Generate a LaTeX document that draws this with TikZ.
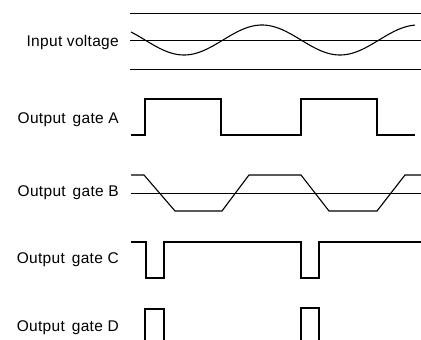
\documentclass[tikz,border=0pt]{standalone}
\usepackage{fontspec}
\setmainfont{Liberation Sans}[LetterSpace=2]
\usepackage{tikz}
\usetikzlibrary{positioning}
\tikzstyle{siglabel} = [anchor=east, inner sep=0pt, font=\fontsize{15.5}{18}\selectfont]
\tikzstyle{wave}     = [line width=1.1pt, line join=miter]
\tikzstyle{refline}  = [line width=0.6pt]
\newcommand{\gap}{\hspace{7pt}}

\begin{document}
\begin{tikzpicture}[x=1pt, y=1pt]
    \useasboundingbox (0,0) rectangle (421,340);

    % signal names
    \node (vin) [siglabel] at (119,298) {Input voltage};
    \node (ga) [siglabel] at (119,220) {Output\gap gate A};
    \node (gb) [siglabel] at (119,147) {Output\gap gate B};
    \node (gc) [siglabel] at (119,80) {Output\gap gate C};
    \node (gd) [siglabel] at (119,12) {Output\gap gate D};

    % input voltage with its reference levels
    \draw[refline] (130,327) -- (421,327);
    \draw[refline] (130,300) -- (421,300);
    \draw[refline] (130,271) -- (421,271);
    \draw[wave] plot[domain=131:415, samples=120, smooth]
        (\x, {300-15*sin(2.3077*(\x-145))});

    % gate A
    \draw[wave] (131,205) -- (145,205) -- (145,241) -- (221,241) -- (221,205)
        -- (301,205) -- (301,241) -- (377,241) -- (377,205) -- (415,205);

    % gate B
    \draw[refline] (131,147) -- (421,147);
    \draw[wave] (131,165) -- (144,165) -- (175,129) -- (222,129) -- (249,165)
        -- (301,165) -- (329,129) -- (377,129) -- (405,165) -- (421,165);

    % gate C
    \draw[wave] (131,98) -- (146,98) -- (146,62) -- (164,62) -- (164,98)
        -- (301,98) -- (301,62) -- (319,62) -- (319,98) -- (421,98);

    % gate D
    \draw[wave] (145,0) -- (145,31) -- (164,31) -- (164,0);
    \draw[wave] (301,0) -- (301,32) -- (319,32) -- (319,0);
\end{tikzpicture}
\end{document}
